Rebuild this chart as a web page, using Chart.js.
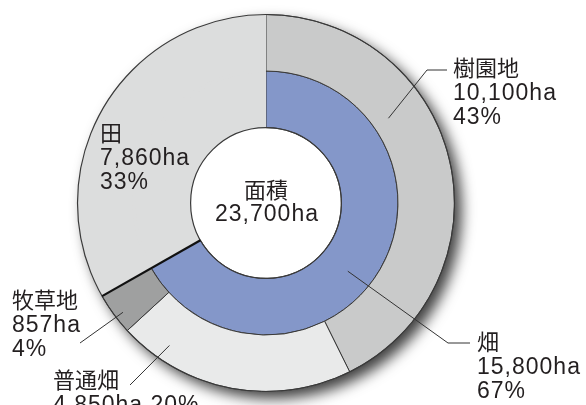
<!DOCTYPE html>
<html>
<head>
<meta charset="utf-8">
<script src="https://cdn.jsdelivr.net/npm/chart.js@4/dist/chart.umd.min.js"></script>
<style>
  body { margin: 0; background: #fff; }
  canvas { display: block; }
</style>
</head>
<body>
<canvas id="pie_canvas" width="586" height="405"></canvas>
<script>
// outer ring: land use breakdown (clockwise from 12 o'clock)
var outerLabels = ['樹園地', '普通畑', '牧草地', '田'];
var outerArea = [10100, 4850, 857, 7860];
var outerPct = [43, 20, 4, 33];
// inner ring: 畑 total vs 田
var innerLabels = ['畑', '田'];
var innerArea = [15800, 7860];
var innerPct = [67, 33];
var totalArea = 23700;

var FONT = '22px "Liberation Sans", "Noto Sans CJK JP", sans-serif';
var LATIN_FONT = '23px "Liberation Sans", sans-serif';
var INK = '#231f20';
var EDGE = '#3a3a3a';
var PADDY = '#dcdddd';

function ha(v) { return v.toLocaleString('en-US') + 'ha'; }

// latin lines in the reference are set a bit loose
function latin(ctx, txt, x, y) {
    ctx.font = LATIN_FONT;
    ctx.letterSpacing = '1px';
    ctx.fillText(txt, x, y);
    ctx.letterSpacing = '0px';
    ctx.font = FONT;
}

// label layout: which arc, where the leader starts inside it (angle/radius fraction),
// leader path and text position
var labelSpots = [
    { ds: 0, idx: 0, at: 0.36, rad: 0.3, path: [[427, 70], [447, 70]], x: 453, y: 70, two: false },
    { ds: 1, idx: 0, at: 0.54, rad: 0.55, path: [[448, 343], [470, 343]], x: 477, y: 344, two: false },
    { ds: 0, idx: 2, at: 0.4, rad: 0.85, path: [[80, 343]], x: 12, y: 302, two: false },
    { ds: 0, idx: 1, at: 0.82, rad: 0.71, path: [[130, 385]], x: 53, y: 382, two: true },
    { ds: 0, idx: 3, at: null, x: 100, y: 135, two: false }
];

var shadowPlugin = {
    id: 'ringShadow',
    beforeDatasetsDraw: function(chart) {
        var arc = chart.getDatasetMeta(0).data[0];
        var ctx = chart.ctx;
        ctx.save();
        ctx.shadowColor = 'rgba(0,0,0,0.75)';
        ctx.shadowBlur = 14;
        ctx.shadowOffsetX = 7;
        ctx.shadowOffsetY = 7;
        ctx.fillStyle = '#fff';
        ctx.beginPath();
        ctx.arc(arc.x, arc.y, arc.outerRadius, 0, Math.PI * 2);
        ctx.fill();
        ctx.restore();
    }
};

var outlinePlugin = {
    id: 'ringOutline',
    afterDatasetsDraw: function(chart) {
        var ctx = chart.ctx;
        var outer = chart.getDatasetMeta(0).data[0];
        var inner = chart.getDatasetMeta(1).data[0];
        var paddyIn = chart.getDatasetMeta(1).data[1];
        ctx.save();
        // hide the seam between the two 田 arcs so they read as one block
        ctx.strokeStyle = PADDY;
        ctx.lineWidth = 3;
        ctx.beginPath();
        ctx.arc(paddyIn.x, paddyIn.y, paddyIn.outerRadius, paddyIn.startAngle + 0.01, paddyIn.endAngle - 0.01);
        ctx.stroke();

        ctx.strokeStyle = EDGE;
        ctx.lineWidth = 1.2;
        ctx.beginPath();
        ctx.arc(outer.x, outer.y, outer.outerRadius, 0, Math.PI * 2);
        ctx.stroke();
        ctx.beginPath();
        ctx.arc(inner.x, inner.y, inner.innerRadius, 0, Math.PI * 2);
        ctx.stroke();

        // heavier line on the 田 / 畑 boundary
        var b = inner;
        ctx.lineWidth = 2.2;
        ctx.strokeStyle = '#111';
        ctx.beginPath();
        ctx.moveTo(b.x + Math.cos(b.endAngle) * b.innerRadius, b.y + Math.sin(b.endAngle) * b.innerRadius);
        ctx.lineTo(b.x + Math.cos(b.endAngle) * outer.outerRadius, b.y + Math.sin(b.endAngle) * outer.outerRadius);
        ctx.stroke();
        ctx.restore();
    }
};

var labelPlugin = {
    id: 'ringLabels',
    afterDraw: function(chart) {
        var ctx = chart.ctx;
        var c = chart.getDatasetMeta(0).data[0];
        ctx.save();
        ctx.font = FONT;
        ctx.fillStyle = INK;
        ctx.textBaseline = 'middle';

        // centre text
        ctx.textAlign = 'center';
        ctx.fillText('面積', c.x, c.y - 11);
        latin(ctx, ha(totalArea), c.x + 1, c.y + 12);

        ctx.textAlign = 'left';
        labelSpots.forEach(function(s) {
            var names = s.ds === 0 ? outerLabels : innerLabels;
            var vals = s.ds === 0 ? outerArea : innerArea;
            var pcts = s.ds === 0 ? outerPct : innerPct;
            var arc = chart.getDatasetMeta(s.ds).data[s.idx];
            if (s.at !== null) {
                var a = arc.startAngle + (arc.endAngle - arc.startAngle) * s.at;
                var r = arc.innerRadius + (arc.outerRadius - arc.innerRadius) * s.rad;
                ctx.strokeStyle = '#333';
                ctx.lineWidth = 1;
                ctx.beginPath();
                ctx.moveTo(arc.x + Math.cos(a) * r, arc.y + Math.sin(a) * r);
                s.path.forEach(function(p) { ctx.lineTo(p[0], p[1]); });
                ctx.stroke();
            }
            ctx.fillText(names[s.idx], s.x, s.y);
            if (s.two) {
                latin(ctx, ha(vals[s.idx]) + ' ' + pcts[s.idx] + '%', s.x, s.y + 24);
            } else {
                latin(ctx, ha(vals[s.idx]), s.x, s.y + 24);
                latin(ctx, pcts[s.idx] + '%', s.x, s.y + 48);
            }
        });
        ctx.restore();
    }
};

var context = document.getElementById('pie_canvas').getContext('2d');

var chart = new Chart(context, {
    type: 'doughnut',
    data: {
        labels: outerLabels,
        datasets: [{
            data: outerArea,
            backgroundColor: ['#c9caca', '#e9eaea', '#9fa0a0', PADDY],
            borderColor: EDGE,
            borderWidth: [1, 1, 1, 0]
        }, {
            data: innerArea,
            backgroundColor: ['#8497c9', PADDY],
            borderColor: EDGE,
            borderWidth: [1, 0]
        }]
    },
    options: {
        responsive: false,
        animation: false,
        cutout: '40%',
        layout: { padding: { left: 77, right: 131, top: 14, bottom: 13 } },
        plugins: {
            legend: { display: false },
            tooltip: { enabled: false }
        }
    },
    plugins: [shadowPlugin, outlinePlugin, labelPlugin]
});
</script>
</body>
</html>
